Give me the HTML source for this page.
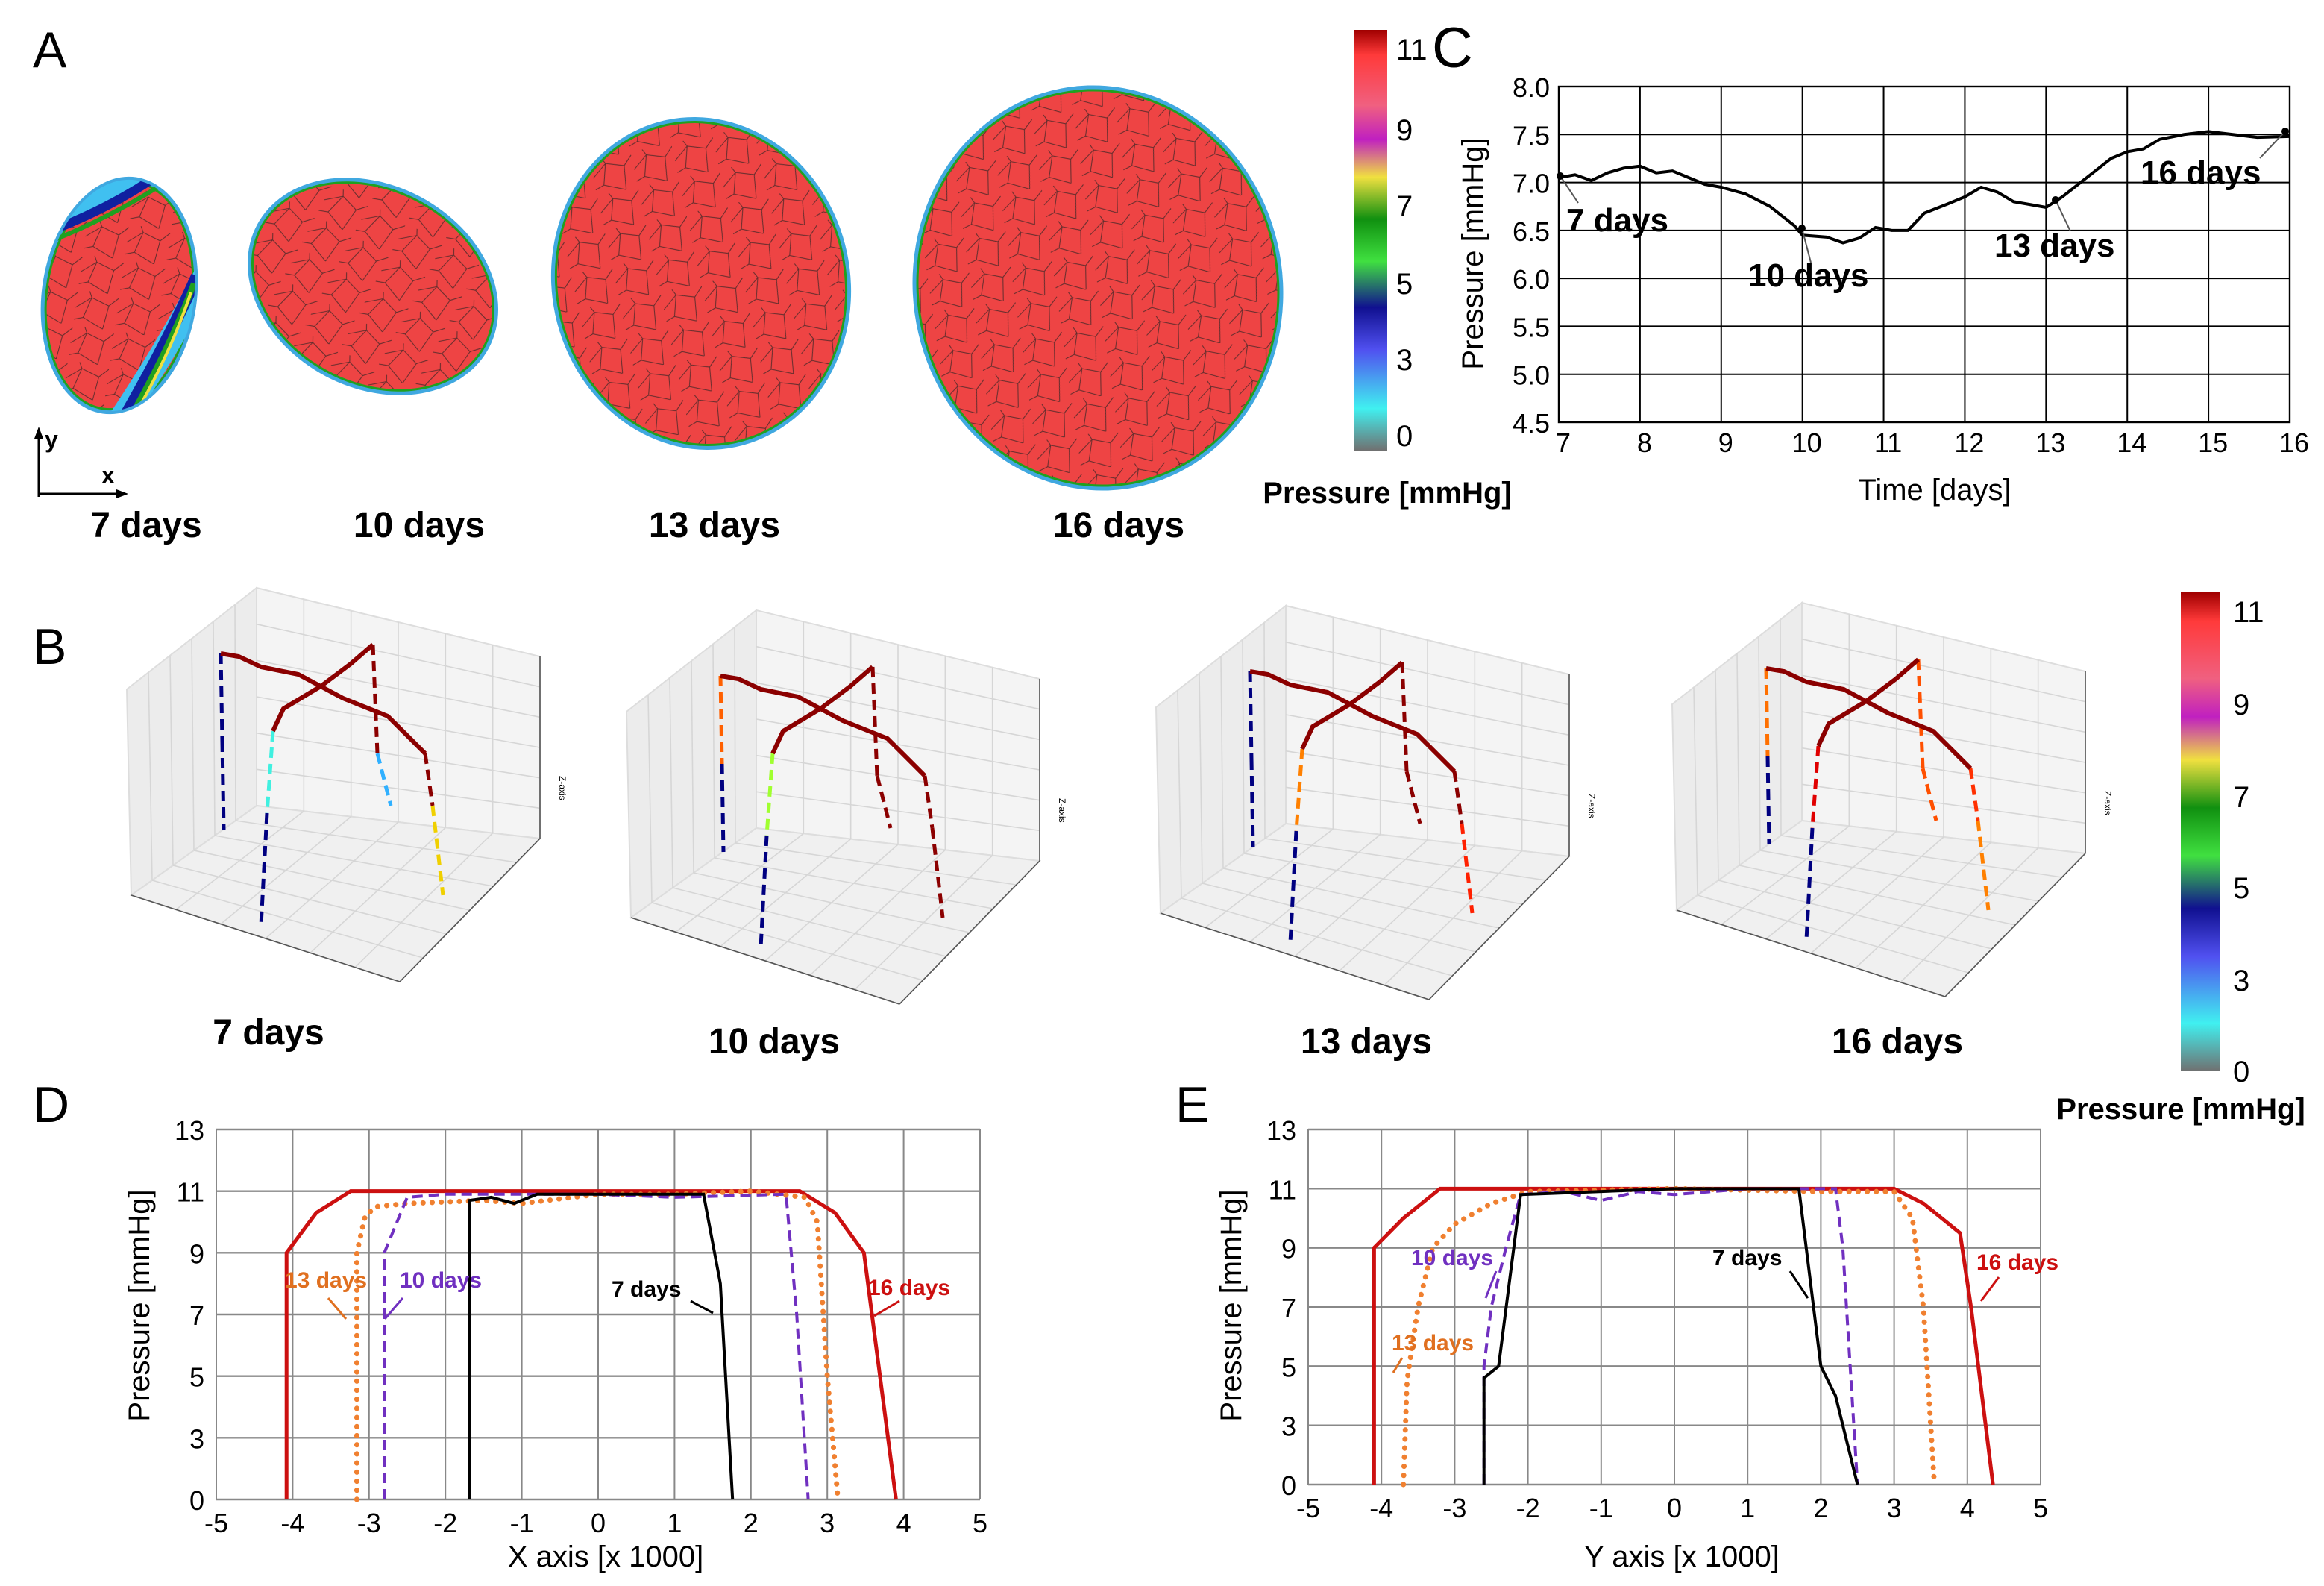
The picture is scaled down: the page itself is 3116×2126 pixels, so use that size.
<!DOCTYPE html>
<html><head><meta charset="utf-8"><style>
html,body{margin:0;padding:0;background:#fff;}
svg{display:block;font-family:"Liberation Sans",Arial,sans-serif;}
</style></head><body>
<svg id="fig" width="3116" height="2126" viewBox="0 0 1558 1063" xmlns="http://www.w3.org/2000/svg">
<defs>
<linearGradient id="cbar" x1="0" y1="0" x2="0" y2="1">
<stop offset="0" stop-color="#a00000"/><stop offset="0.06" stop-color="#ff3a3a"/><stop offset="0.18" stop-color="#f06080"/>
<stop offset="0.26" stop-color="#c020c0"/><stop offset="0.35" stop-color="#f0e040"/><stop offset="0.45" stop-color="#109010"/>
<stop offset="0.55" stop-color="#40e040"/><stop offset="0.66" stop-color="#101090"/><stop offset="0.76" stop-color="#5050f0"/>
<stop offset="0.9" stop-color="#40f0f0"/><stop offset="1" stop-color="#707070"/>
</linearGradient>
<pattern id="mesh" width="28" height="24" patternUnits="userSpaceOnUse">
<path d="M0 12 L10 4 L22 8 L28 2 M10 4 L8 0 M22 8 L20 24 M10 4 L6 18 L20 24 M6 18 L0 20" stroke="#222" stroke-width="0.5" fill="none" opacity="0.7"/>
</pattern>
<clipPath id="clip7"><ellipse cx="80" cy="198" rx="50" ry="78" transform="rotate(8 80 198)"/></clipPath>
</defs>
<g id="panelA"></g>
<g id="panelB"></g>
<g id="panelC"></g>
<g id="panelD"></g>
<g id="panelE"></g>
</svg>
<script>
// ---------- Panel C data ----------
const cDays = [7,7.2,7.4,7.6,7.8,8,8.2,8.4,8.6,8.8,9,9.3,9.6,9.9,10,10.3,10.5,10.7,10.9,11.1,11.3,11.5,11.8,12,12.2,12.4,12.6,12.8,13,13.2,13.5,13.8,14,14.2,14.4,14.7,15,15.3,15.6,16];
const cPressure = [7.05,7.08,7.02,7.1,7.15,7.17,7.1,7.12,7.05,6.98,6.95,6.88,6.75,6.55,6.45,6.43,6.37,6.42,6.53,6.5,6.5,6.68,6.78,6.85,6.95,6.9,6.8,6.77,6.74,6.85,7.05,7.25,7.32,7.35,7.45,7.5,7.53,7.5,7.47,7.48];
const cXTicks = [7,8,9,10,11,12,13,14,15,16];
const cYTicks = [4.5,5.0,5.5,6.0,6.5,7.0,7.5,8.0];
// ---------- Panel D data ----------
const dX16 = [-4.08,-4.08,-3.69,-3.24,-2,0,2,2.64,3.1,3.48,3.9];
const dY16 = [0,9,10.3,11,11,11,11,11,10.3,9,0];
const dX13 = [-3.16,-3.16,-3.05,-2.9,-2.5,-1.5,-1,0,1,2,2.71,2.87,3.0,3.14];
const dY13 = [0,9,10.2,10.5,10.6,10.7,10.6,10.9,10.9,11,10.8,10,5,0];
const dX10 = [-2.8,-2.8,-2.5,-2,0,1,2.46,2.6,2.75];
const dY10 = [0,9,10.8,10.9,10.9,10.8,10.9,7,0];
const dX7 = [-1.68,-1.68,-1.4,-1.1,-0.8,0,1.38,1.6,1.76];
const dY7 = [0,10.7,10.8,10.6,10.9,10.9,10.9,8,0];
// ---------- Panel E data ----------
const eX16 = [-4.1,-4.1,-3.7,-3.2,0,3,3.4,3.9,4.05,4.35];
const eY16 = [0,9,10,11,11,11,10.5,9.5,7,0];
const eX13 = [-3.7,-3.65,-3.5,-3.3,-3,-2.5,-2,0,2,3,3.25,3.4,3.55];
const eY13 = [0,4.5,7,9,9.8,10.5,10.9,11,10.9,10.9,10,7,0];
const eX10 = [-2.6,-2.6,-2.5,-2.3,-2.1,-1.5,-1,-0.5,0,1,2.2,2.3,2.5];
const eY10 = [0,5,7,9,10.8,10.9,10.6,10.9,10.8,11,11,9,0];
const eX7 = [-2.6,-2.6,-2.4,-2.1,0,1.7,1.9,2.0,2.2,2.5];
const eY7 = [0,4.6,5,10.8,11,11,7,5,4,0];
const profXTicks = [-5,-4,-3,-2,-1,0,1,2,3,4,5];
const profYTicks = [13,11,9,7,5,3,0];

const NS="http://www.w3.org/2000/svg";
function mk(parent,tag,attrs,text){const e=document.createElementNS(NS,tag);for(const k in attrs)e.setAttribute(k,attrs[k]);if(text!==undefined)e.textContent=text;parent.appendChild(e);return e;}

// ---------- Panel A ----------
const A=document.getElementById('panelA');
let t=mk(A,'text',{x:22,y:45,'font-size':34},'A');

const blobs=[[80,198,52,80,8,'7 days',98],[250,192,88,68,28,'10 days',281],[470,190,100,112,-12,'13 days',479],[736,193,124,136,-8,'16 days',750]];
blobs.forEach((b,i)=>{
  const g=mk(A,'g',{transform:`translate(${b[0]},${b[1]}) rotate(${b[4]})`});
  
  mk(g,'ellipse',{cx:0,cy:0,rx:b[2],ry:b[3],fill:'#40a8e0'});
  mk(g,'ellipse',{cx:0,cy:0,rx:b[2]-2.5,ry:b[3]-2.5,fill:'#20a020'});
  mk(g,'ellipse',{cx:0,cy:0,rx:b[2]-4,ry:b[3]-4,fill:'#ee4444'});
  mk(g,'ellipse',{cx:0,cy:0,rx:b[2]-4,ry:b[3]-4,fill:'url(#mesh)'});
  const l=mk(A,'text',{x:b[6],y:360,'font-size':24,'font-weight':'bold','text-anchor':'middle'},b[5]);
  
});
// gradient bands inside 7 days
const bands=mk(A,'g',{'clip-path':'url(#clip7)'});

mk(bands,'path',{d:'M78 285 Q115 230 140 180',stroke:'#40c0f0','stroke-width':16,fill:'none'});
mk(bands,'path',{d:'M82 282 Q112 230 132 185',stroke:'#1020a0','stroke-width':8,fill:'none'});
mk(bands,'path',{d:'M90 275 Q115 230 130 190',stroke:'#20a020','stroke-width':4,fill:'none'});
mk(bands,'path',{d:'M95 270 Q116 232 128 196',stroke:'#f0e040','stroke-width':2,fill:'none'});
mk(bands,'path',{d:'M25 150 Q70 135 100 110',stroke:'#40c0f0','stroke-width':18,fill:'none'});
mk(bands,'path',{d:'M25 158 Q70 142 105 118',stroke:'#1020a0','stroke-width':6,fill:'none'});
mk(bands,'path',{d:'M28 164 Q70 148 108 124',stroke:'#20a020','stroke-width':3,fill:'none'});
const axg=mk(A,'g',{});
mk(axg,'path',{d:'M26 333 L26 288 M26 331 L84 331',stroke:'#000','stroke-width':1.5,fill:'none'});
mk(axg,'path',{d:'M23 294 L26 286 L29 294 Z M78 328 L86 331 L78 334 Z',fill:'#000'});
mk(axg,'text',{x:30,y:300,'font-size':16,'font-weight':'bold'},'y');
mk(axg,'text',{x:68,y:324,'font-size':16,'font-weight':'bold'},'x');
function colorbar(par,x,y,w,h,labs,lx,titleX,titleY,name){
  const g=mk(par,'g',{});
  mk(g,'rect',{x:x,y:y,width:w,height:h,fill:'url(#cbar)'});
  labs.forEach(l=>mk(g,'text',{x:lx,y:l[1]+7,'font-size':20},l[0]));
  mk(g,'text',{x:titleX,y:titleY,'font-size':20,'font-weight':'bold','text-anchor':'middle'},'Pressure [mmHg]');
}
colorbar(A,908,20,22,282,[['11',33],['9',87],['7',138],['5',190],['3',241],['0',292]],936,930,337,'colorbar-a');

// ---------- Panel C ----------
const C=document.getElementById('panelC');
t=mk(C,'text',{x:960,y:45,'font-size':38},'C');
const cL=1045,cR=1535,cT=58,cB=283;
const cx=v=>cL+(v-7)/9*(cR-cL), cy=v=>cB-(v-4.5)/3.5*(cB-cT);
cXTicks.forEach(v=>{mk(C,'line',{x1:cx(v),x2:cx(v),y1:cT,y2:cB,stroke:'#000','stroke-width':1});
  const e=mk(C,'text',{x:cx(v)+3,y:303,'font-size':18,'text-anchor':'middle'},v);});
cYTicks.forEach(v=>{mk(C,'line',{x1:cL,x2:cR,y1:cy(v),y2:cy(v),stroke:'#000','stroke-width':1});
  const e=mk(C,'text',{x:cL-6,y:cy(v)+7,'font-size':18,'text-anchor':'end'},v.toFixed(1));});
mk(C,'rect',{x:cL,y:cT,width:cR-cL,height:cB-cT,fill:'none',stroke:'#000','stroke-width':1.2});
let pc=mk(C,'polyline',{points:cDays.map((d,i)=>cx(d)+','+cy(cPressure[i])).join(' '),fill:'none',stroke:'#000','stroke-width':2});

t=mk(C,'text',{x:1297,y:335,'font-size':20,'text-anchor':'middle'},'Time [days]');
t=mk(C,'text',{x:0,y:0,'font-size':20,'text-anchor':'middle',transform:'translate(994,170) rotate(-90)'},'Pressure [mmHg]');
[['7 days',1050,155,1058,136,1046,118],['10 days',1172,192,1214,176,1208,153],['13 days',1337,172,1388,155,1378,134],['16 days',1435,123,1515,106,1532,88]].forEach((a,i)=>{
  const g=mk(C,'g',{});
  mk(g,'text',{x:a[1],y:a[2],'font-size':22,'font-weight':'bold'},a[0]);
  mk(g,'line',{x1:a[3],y1:a[4],x2:a[5],y2:a[6],stroke:'#555','stroke-width':1});
  mk(g,'circle',{cx:a[5],cy:a[6],r:2.5,fill:'#000'});
});

// ---------- Panel B ----------
const B=document.getElementById('panelB');
t=mk(B,'text',{x:22,y:445,'font-size':34},'B');
const plots3d=[
 {dx:0,dy:0,label:'7 days',lx:180,ly:700,c1:['#000080','#000080'],c1r:['#8b0000','#f0d000'],c2:['#40f0e0','#000080'],c2r:['#8b0000','#30b0ff']},
 {dx:335,dy:15,label:'10 days',lx:519,ly:706,c1:['#ff6000','#000080'],c1r:['#8b0000','#8b0000'],c2:['#a0ff30','#000080'],c2r:['#8b0000','#8b0000']},
 {dx:690,dy:12,label:'13 days',lx:916,ly:706,c1:['#000080','#000080'],c1r:['#8b0000','#ff2000'],c2:['#ff8000','#000080'],c2r:['#8b0000','#8b0000']},
 {dx:1036,dy:10,label:'16 days',lx:1272,ly:706,c1:['#ff7000','#000080'],c1r:['#ff3000','#ff8000'],c2:['#e00000','#000080'],c2r:['#ff5000','#ff5000']}
];
plots3d.forEach((p,i)=>{
  const g=mk(B,'g',{transform:`translate(${p.dx},${p.dy})`});
  mk(g,'polygon',{points:'85,462 172,394 172,540 88,600',fill:'#ececec',stroke:'#ddd'});
  mk(g,'polygon',{points:'172,394 362,440 362,562 172,540',fill:'#f4f4f4',stroke:'#ddd'});
  mk(g,'polygon',{points:'88,600 172,540 362,562 268,658',fill:'#f0f0f0',stroke:'#ddd'});
  for(let k=1;k<6;k++){const f=k/6;
    mk(g,'line',{x1:172+190*f,y1:394+46*f,x2:172+190*f,y2:540+22*f,stroke:'#d6d6d6','stroke-width':0.8});
    mk(g,'line',{x1:172,y1:394+146*f,x2:362,y2:440+122*f,stroke:'#d6d6d6','stroke-width':0.8});
    mk(g,'line',{x1:85+87*f,y1:462-68*f,x2:88+84*f,y2:600-60*f,stroke:'#d6d6d6','stroke-width':0.8});
    mk(g,'line',{x1:88+84*f,y1:600-60*f,x2:268+94*f,y2:658-96*f,stroke:'#d6d6d6','stroke-width':0.8});
    mk(g,'line',{x1:172+190*f,y1:540+22*f,x2:88+180*f,y2:600+58*f,stroke:'#d6d6d6','stroke-width':0.8});
  }
  mk(g,'line',{x1:362,y1:440,x2:362,y2:562,stroke:'#555','stroke-width':0.8});
  mk(g,'line',{x1:88,y1:600,x2:268,y2:658,stroke:'#555','stroke-width':0.8});
  mk(g,'line',{x1:268,y1:658,x2:362,y2:562,stroke:'#555','stroke-width':0.8});
  mk(g,'text',{x:375,y:520,'font-size':6,transform:'rotate(90 375 520)'},'Z-axis');
  const ds={fill:'none','stroke-width':2.5,'stroke-dasharray':'7,4'};
  const seg=(x1,y1,x2,y2,c)=>mk(g,'line',Object.assign({x1,y1,x2,y2,stroke:c},ds));
  seg(148,438,149,497,p.c1[0]);seg(149,497,150,556,p.c1[1]);
  seg(285,505,290,540,p.c1r[0]);seg(290,540,297,600,p.c1r[1]);
  seg(183,490,179,545,p.c2[0]);seg(179,545,175,620,p.c2[1]);
  seg(250,432,253,505,p.c2r[0]);seg(253,505,262,540,p.c2r[1]);
  mk(g,'polyline',{points:'148,438 160,440 175,447 200,452 230,468 260,480 285,505',fill:'none',stroke:'#8b0000','stroke-width':3});
  mk(g,'polyline',{points:'183,490 190,475 215,460 235,445 250,432',fill:'none',stroke:'#8b0000','stroke-width':3});
  const l=mk(B,'text',{x:p.lx,y:p.ly,'font-size':24,'font-weight':'bold','text-anchor':'middle'},p.label);
  
});
colorbar(B,1462,397,26,321,[['11',410],['9',472],['7',534],['5',595],['3',657],['0',718]],1497,1462,750,'colorbar-b');

// ---------- Panels D & E ----------
function profile(id,L,R,T,Bt,letter,lx,xt,series,annots,ylabX){
  const P=document.getElementById(id);
  const el=mk(P,'text',{x:lx,y:752,'font-size':34},letter);
  const step=(Bt-T)/6;
  const px=v=>L+(v+5)/10*(R-L);
  const py=v=>v>=3?T+(13-v)/2*step:T+5*step+(3-v)/3*step;
  profXTicks.forEach(v=>{mk(P,'line',{x1:px(v),x2:px(v),y1:T,y2:Bt,stroke:'#888','stroke-width':1});
    const e=mk(P,'text',{x:px(v),y:Bt+22,'font-size':18,'text-anchor':'middle'},v);});
  profYTicks.forEach(v=>{mk(P,'line',{x1:L,x2:R,y1:py(v),y2:py(v),stroke:'#888','stroke-width':1.2});
    const e=mk(P,'text',{x:L-8,y:py(v)+7,'font-size':18,'text-anchor':'end'},v);});
  series.forEach(s=>{const e=mk(P,'polyline',{points:s.x.map((x,i)=>px(x)+','+py(s.y[i])).join(' '),fill:'none',stroke:s.c,'stroke-width':s.w,'stroke-dasharray':s.d,'stroke-linecap':s.cap});
    });
  annots.forEach(a=>{const g=mk(P,'g',{});
    mk(g,'text',{x:a[2],y:a[3],'font-size':15,'font-weight':'bold',fill:a[1]},a[0]);
    mk(g,'line',{x1:a[4],y1:a[5],x2:a[6],y2:a[7],stroke:a[1],'stroke-width':1.5});});
  let e=mk(P,'text',{x:(L+R)/2+5,y:1050,'font-size':20,'text-anchor':'middle'},xt+'   [x 1000]');
  e=mk(P,'text',{x:0,y:0,'font-size':20,'text-anchor':'middle',transform:`translate(${ylabX},875) rotate(-90)`},'Pressure [mmHg]');
}
profile('panelD',145,657,757,1005,'D',22,'X axis',[
 {x:dX16,y:dY16,c:'#cc1010',w:2.5,d:'none',cap:'butt',n:'d-16-days'},
 {x:dX13,y:dY13,c:'#f08030',w:3.5,d:'0.1,6',cap:'round',n:'d-13-days'},
 {x:dX10,y:dY10,c:'#7030c0',w:2,d:'7,4',cap:'butt',n:'d-10-days'},
 {x:dX7,y:dY7,c:'#000',w:2,d:'none',cap:'butt',n:'d-7-days'}],
 [['13 days','#e07020',191,863,220,870,232,884],['10 days','#7030c0',268,863,270,870,258,884],['7 days','#000',410,869,463,872,478,880],['16 days','#cc1010',582,868,603,872,586,882]],100);
profile('panelE',877,1368,757,995,'E',788,'Y axis',[
 {x:eX16,y:eY16,c:'#cc1010',w:2.5,d:'none',cap:'butt',n:'e-16-days'},
 {x:eX13,y:eY13,c:'#f08030',w:3.5,d:'0.1,6',cap:'round',n:'e-13-days'},
 {x:eX10,y:eY10,c:'#7030c0',w:2,d:'7,4',cap:'butt',n:'e-10-days'},
 {x:eX7,y:eY7,c:'#000',w:2,d:'none',cap:'butt',n:'e-7-days'}],
 [['10 days','#7030c0',946,848,1003,852,996,870],['13 days','#e07020',933,905,940,910,934,920],['7 days','#000',1148,848,1200,852,1212,870],['16 days','#cc1010',1325,851,1340,856,1328,872]],832);
</script>
</body></html>
